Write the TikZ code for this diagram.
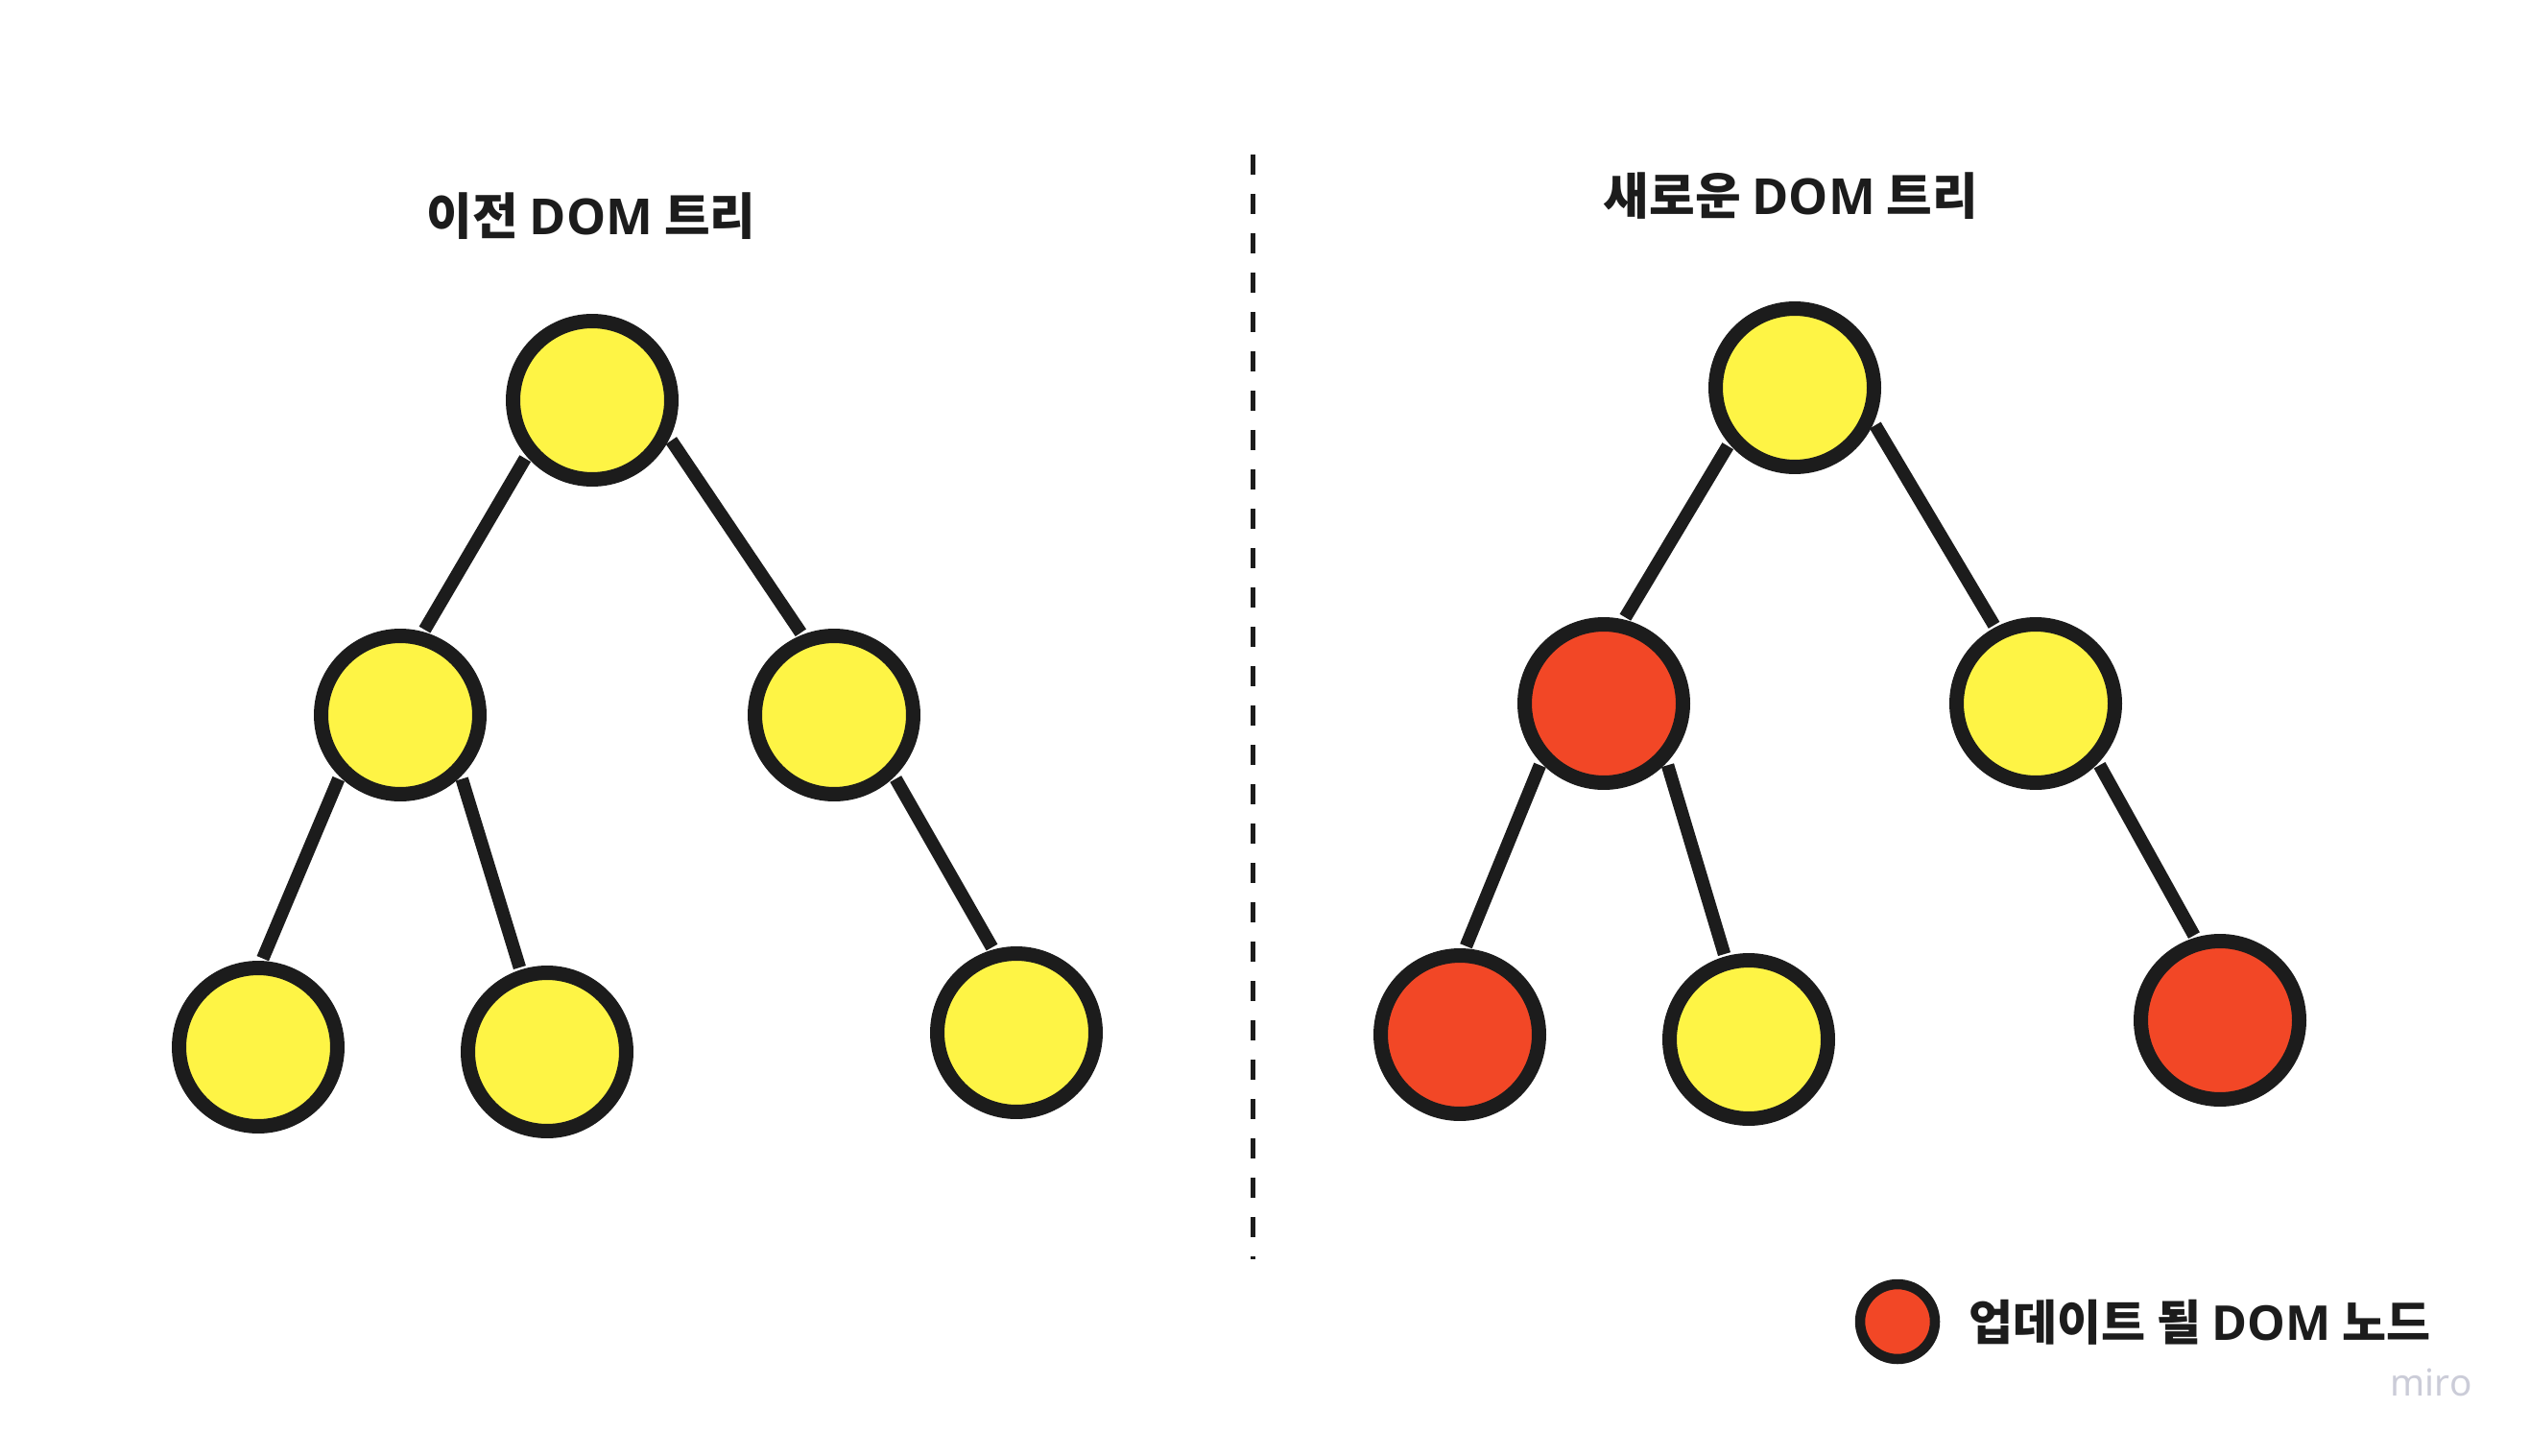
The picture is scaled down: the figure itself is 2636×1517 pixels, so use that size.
\documentclass[tikz,border=0pt]{standalone}
\usepackage{fontspec}
\setmainfont{Noto Sans CJK KR}
\newfontfamily\latinfont{Open Sans}
\newfontfamily\mirofont{Noto Sans}
\definecolor{ylw}{HTML}{FEF445}
\definecolor{rd}{HTML}{F24726}
\definecolor{ink}{HTML}{1C1C1C}
\definecolor{mirogray}{HTML}{CBCCD8}
\begin{document}
\begin{tikzpicture}[x=0.02cm,y=-0.02cm,
  dnode/.style={circle, draw=ink, line width=0.3cm, minimum size=3.3cm, inner sep=0pt, outer sep=0.2cm},
  yelnode/.style={dnode, fill=ylw},
  updnode/.style={dnode, fill=rd},
  treeedge/.style={draw=ink, line width=0.27cm},
  titletext/.style={font=\bfseries\fontsize{29.5}{36}\selectfont, text=ink, inner sep=0pt},
  legendtext/.style={font=\bfseries\fontsize{28.5}{34}\selectfont, text=ink, inner sep=0pt, anchor=west},
]
\useasboundingbox (0,0) rectangle (2636,1517);
\fill[white] (0,0) rectangle (2636,1517);

% titles
\node[titletext] (t1) at (616,225) {이전 {\latinfont\bfseries DOM} 트리};
\node[titletext] (t2) at (1866,204) {새로운 {\latinfont\bfseries DOM} 트리};

% divider
\coordinate (d1) at (1305,161);
\coordinate (d2) at (1305,1312);
\draw[ink, line width=0.1cm, dash pattern=on 0.42cm off 0.4cm] (d1) -- (d2);

% left tree
\node[yelnode] (Lr) at (617,417) {};
\node[yelnode] (La) at (417,745) {};
\node[yelnode] (Lb) at (869,745) {};
\node[yelnode] (Laa) at (269,1091) {};
\node[yelnode] (Lab) at (570,1096) {};
\node[yelnode] (Lba) at (1059,1076) {};
\draw[treeedge] (Lr.221) -- (La.74);
\draw[treeedge] (Lr.-27) -- (Lb.112);
\draw[treeedge] (La.226) -- (Laa.87);
\draw[treeedge] (La.-46) -- (Lab.108);
\draw[treeedge] (Lb.-46) -- (Lba.106.6);

% right tree
\node[yelnode] (Rr) at (1870,404) {};
\node[updnode] (Ra) at (1671,733) {};
\node[yelnode] (Rb) at (2121,733) {};
\node[updnode] (Raa) at (1521,1078) {};
\node[yelnode] (Rab) at (1822,1083) {};
\node[updnode] (Rba) at (2313,1063) {};
\draw[treeedge] (Rr.221) -- (Ra.76);
\draw[treeedge] (Rr.-25.5) -- (Rb.118);
\draw[treeedge] (Ra.224) -- (Raa.86);
\draw[treeedge] (Ra.-44) -- (Rab.106.5);
\draw[treeedge] (Rb.-44) -- (Rba.107);

% legend
\node[circle, draw=ink, line width=0.21cm, minimum size=1.56cm, inner sep=0pt, fill=rd] (leg) at (1977,1377) {};
\node[legendtext] (legt) at (2051,1378) {업데이트 될 {\latinfont\bfseries DOM} 노드};

% watermark
\node[font=\mirofont\fontsize{22}{26}\selectfont, text=mirogray, inner sep=0pt] (miro) at (2533,1440) {miro};
\end{tikzpicture}
\end{document}
